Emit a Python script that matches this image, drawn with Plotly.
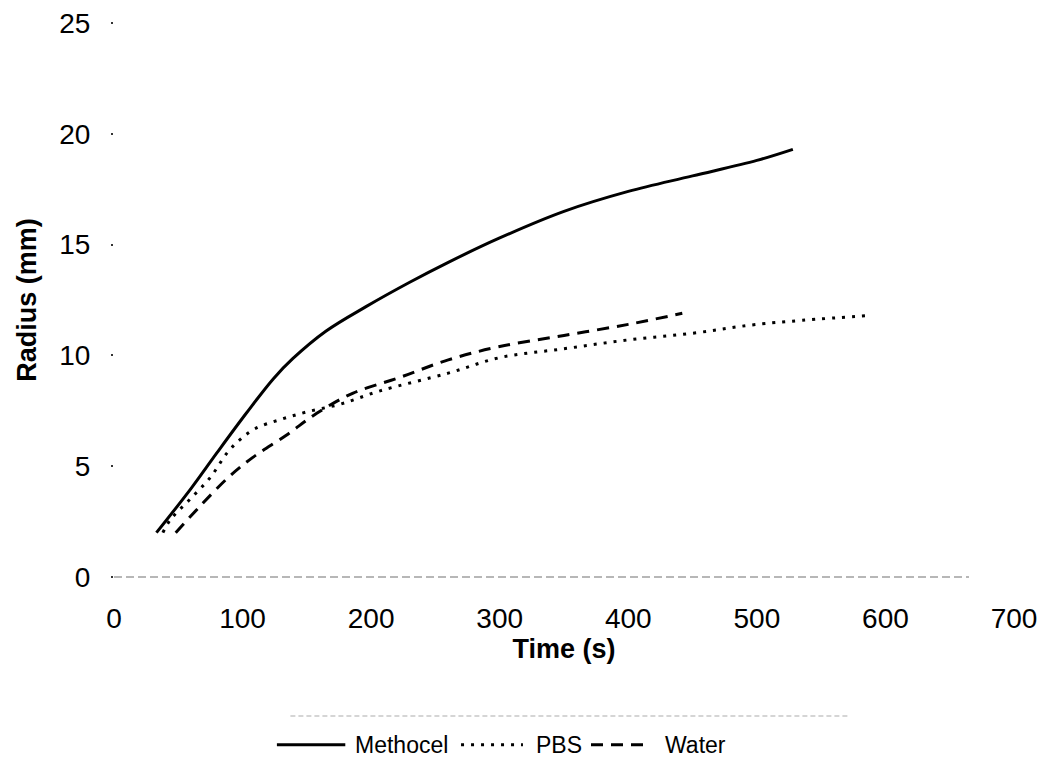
import plotly.graph_objects as go

# Spreading radius over time for three liquids
methocel_t = [33, 60, 80, 103, 124, 139, 165, 196, 230, 260, 300, 350, 400, 450, 500, 528]
methocel_r = [2.0, 4.0, 5.6, 7.4, 8.95, 9.85, 11.1, 12.2, 13.3, 14.2, 15.3, 16.5, 17.4, 18.1, 18.8, 19.3]

pbs_t = [38, 44, 59, 75, 88, 98, 110, 129, 150, 176, 207, 260, 300, 350, 400, 450, 500, 588]
pbs_r = [2.0, 2.6, 3.5, 4.5, 5.6, 6.2, 6.7, 7.1, 7.45, 7.8, 8.4, 9.2, 9.9, 10.3, 10.7, 11.0, 11.4, 11.8]

water_t = [48, 67, 89, 108, 134, 158, 186, 222, 260, 300, 350, 400, 442]
water_r = [2.0, 3.2, 4.5, 5.4, 6.4, 7.4, 8.3, 9.0, 9.8, 10.4, 10.9, 11.4, 11.9]

x_ticks = [0, 100, 200, 300, 400, 500, 600, 700]
y_ticks = [0, 5, 10, 15, 20, 25]

FONT = "Liberation Sans, Arial, sans-serif"
DOT = "3px,7px"
DASH = "12px,8px"

series = [
    ("Methocel", methocel_t, methocel_r, "solid"),
    ("PBS", pbs_t, pbs_r, DOT),
    ("Water", water_t, water_r, DASH),
]

fig = go.Figure()
for name, t, r, dash in series:
    fig.add_trace(go.Scatter(
        x=t, y=r, mode="lines", name=name, line_shape="spline",
        line=dict(color="black", width=3, dash=dash), showlegend=False,
    ))

# Hand-built legend row below the plot (paper coordinates)
leg_y = -0.303
legend_items = [
    ("Methocel", "solid", 0.181, 0.257, 0.2656),
    ("PBS", DOT, 0.3856, 0.4544, 0.4667),
    ("Water", DASH, 0.5300, 0.5956, 0.610),
]
shapes = []
annotations = []
for name, dash, x0, x1, tx in legend_items:
    shapes.append(dict(type="line", xref="paper", yref="paper", x0=x0, x1=x1,
                       y0=leg_y, y1=leg_y, line=dict(color="black", width=3, dash=dash)))
    annotations.append(dict(text=name, xref="paper", yref="paper", x=tx, y=leg_y,
                            xanchor="left", yanchor="middle", showarrow=False,
                            font=dict(family=FONT, size=23, color="black")))

# faint rule above the legend
shapes.append(dict(type="line", xref="paper", yref="paper", x0=0.196, x1=0.818,
                   y0=-0.251, y1=-0.251, line=dict(color="#c8c8c8", width=1.5, dash="5px,3px")))
# faint baseline along the time axis
shapes.append(dict(type="line", xref="paper", yref="paper", x0=0, x1=0.95,
                   y0=0, y1=0, line=dict(color="#a0a0a0", width=1.5, dash="8px,4px")))

fig.update_layout(
    width=1046, height=759,
    margin=dict(l=114, r=32, t=23, b=182),
    paper_bgcolor="white", plot_bgcolor="white",
    font=dict(family=FONT, color="black"),
    shapes=shapes, annotations=annotations,
)
fig.update_xaxes(
    range=[0, 700], tickvals=x_ticks, ticktext=[str(v) for v in x_ticks],
    showgrid=False, zeroline=False, showline=False, ticks="",
    tickfont=dict(size=28), ticklabelstandoff=22,
    title=dict(text="<b>Time (s)</b>", font=dict(size=27), standoff=6),
    automargin=False,
)
fig.update_yaxes(
    range=[0, 25], tickvals=y_ticks, ticktext=[str(v) for v in y_ticks],
    showgrid=False, zeroline=False, showline=False,
    ticks="outside", ticklen=2, tickwidth=2, tickcolor="#333",
    tickfont=dict(size=28), ticklabelstandoff=15,
    title=dict(text="<b>Radius (mm)</b>", font=dict(size=27), standoff=14),
    automargin=False,
)

fig.write_html("out.html")
